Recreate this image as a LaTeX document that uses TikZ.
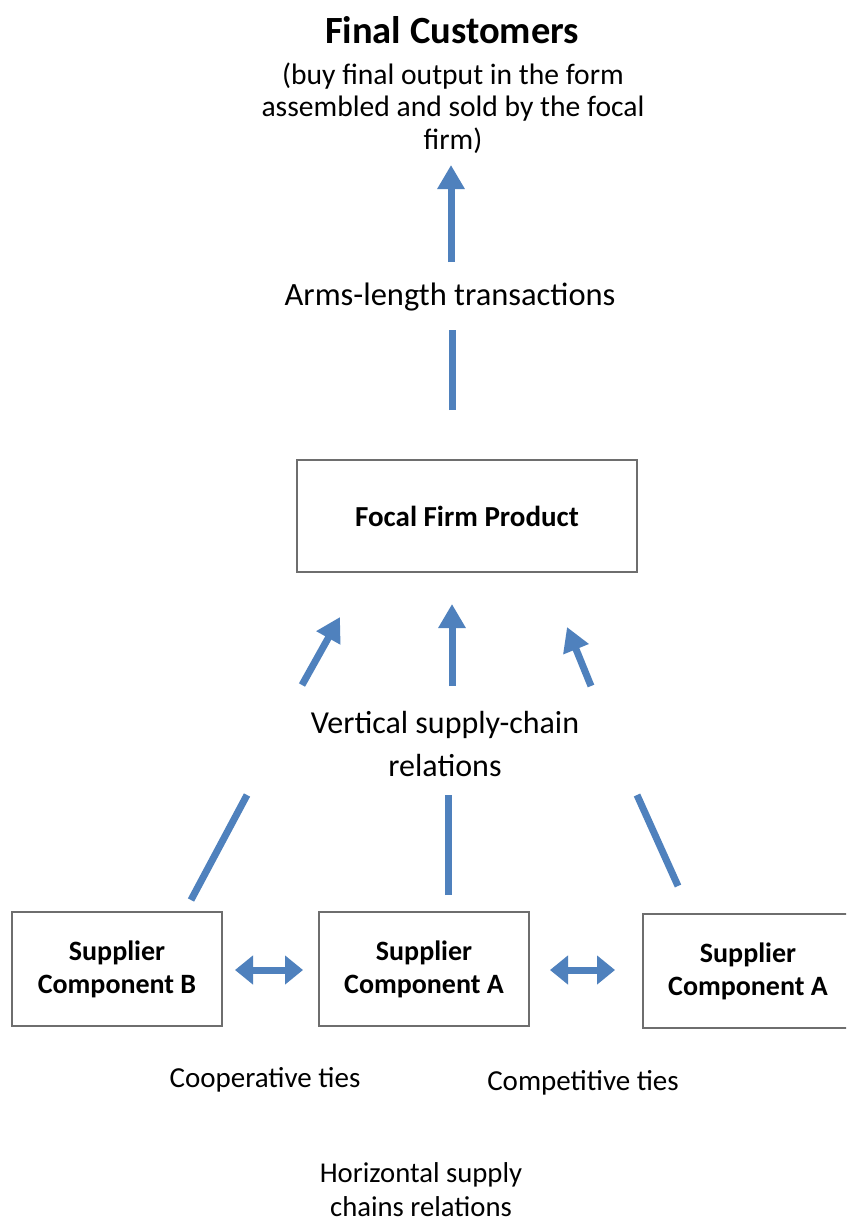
\documentclass[tikz,border=0pt]{standalone}
\usepackage{fontspec}
\setmainfont{Carlito}
\usetikzlibrary{arrows.meta}
\definecolor{arrowblue}{HTML}{4F81BD}
\definecolor{boxgray}{HTML}{6E6E6E}
\begin{document}
\begin{tikzpicture}[x=1pt,y=-1pt,
  box/.style={draw=boxgray, line width=2.5pt, minimum width=210pt, minimum height=114pt,
    align=center, font=\fontsize{28}{33}\selectfont\bfseries, inner sep=0pt},
  flow/.style={draw=arrowblue, line width=7pt},
  flowtip/.style={flow, -{Triangle[length=24pt,width=26pt]}},
  twoway/.style={draw=arrowblue, line width=7pt,
    {Triangle[length=18pt,width=28pt]}-{Triangle[length=18pt,width=28pt]}},
  lbl/.style={align=center, inner sep=0pt}
]
\useasboundingbox (0,0) rectangle (846,1223);
\clip (0,0) rectangle (846,1223);
\fill[white] (0,0) rectangle (846,1223);

% top
\node[lbl, font=\fontsize{38.5}{45}\selectfont\bfseries] (title) at (452,30) {Final Customers};
\node[lbl, font=\fontsize{29.6}{32.5}\selectfont] (sub) at (453,108)
  {(buy final output in the form\\assembled and sold by the focal\\firm)};

\coordinate (a1s) at (451,262);
\coordinate (a1e) at (451,165);
\draw[flowtip] (a1s) -- (a1e);

\node[lbl, font=\fontsize{32.5}{38}\selectfont] (arms) at (450,297) {Arms-length transactions};
\coordinate (a0s) at (452,410);
\coordinate (a0e) at (452,330);
\draw[flow] (a0s) -- (a0e);

% focal
\node[box, minimum width=340pt, minimum height=112pt, font=\fontsize{29}{34}\selectfont\bfseries]
  (focal) at (467,516) {Focal Firm Product};

% vertical relations
\node[lbl, font=\fontsize{32}{43}\selectfont] (vert) at (445,744) {Vertical supply-chain\\relations};

\coordinate (lu1) at (302,685); \coordinate (lu2) at (340,617);
\coordinate (cu1) at (452,686); \coordinate (cu2) at (452,604);
\coordinate (ru1) at (591,686); \coordinate (ru2) at (567,627);
\draw[flowtip] (lu1) -- (lu2);
\draw[flowtip] (cu1) -- (cu2);
\draw[flowtip] (ru1) -- (ru2);

\coordinate (ll1) at (191,900); \coordinate (ll2) at (247,795);
\coordinate (cl1) at (448,895); \coordinate (cl2) at (448,795);
\coordinate (rl1) at (678,886); \coordinate (rl2) at (637,795);
\draw[flow] (ll1) -- (ll2);
\draw[flow] (cl1) -- (cl2);
\draw[flow] (rl1) -- (rl2);

% suppliers
\node[box] (supB) at (117,969) {Supplier\\Component B};
\node[box] (supA) at (424,969) {Supplier\\Component A};
\node[box] (supC) at (748,971) {Supplier\\Component A};

\coordinate (h1a) at (235,970); \coordinate (h1b) at (303,970);
\coordinate (h2a) at (550,970); \coordinate (h2b) at (615,970);
\draw[twoway] (h1a) -- (h1b);
\draw[twoway] (h2a) -- (h2b);

% bottom labels
\node[lbl, font=\fontsize{29}{34}\selectfont] (coop) at (265,1080) {Cooperative ties};
\node[lbl, font=\fontsize{29}{34}\selectfont] (comp) at (583,1083) {Competitive ties};
\node[lbl, font=\fontsize{28.7}{34}\selectfont] (horiz) at (421,1190) {Horizontal supply\\chains relations};
\end{tikzpicture}
\end{document}
